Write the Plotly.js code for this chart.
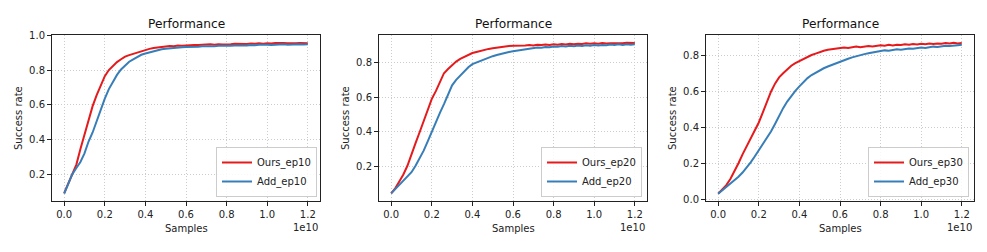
<!DOCTYPE html>
<html>
<head>
<meta charset="utf-8">
<script src="https://cdn.plot.ly/plotly-3.0.1.min.js"></script>
<style>html,body{margin:0;padding:0;background:#fff;}#chart{width:987px;height:252px;}</style>
</head>
<body>
<div id="chart"></div>
<script>
// x in units of 1e10 samples
const samples = [0.00,0.02,0.04,0.06,0.08,0.10,0.12,0.14,0.16,0.18,
  0.20,0.22,0.24,0.26,0.28,0.30,0.32,0.34,0.36,0.38,
  0.40,0.42,0.44,0.46,0.48,0.50,0.52,0.54,0.56,0.58,
  0.60,0.62,0.64,0.66,0.68,0.70,0.72,0.74,0.76,0.78,
  0.80,0.82,0.84,0.86,0.88,0.90,0.92,0.94,0.96,0.98,
  1.00,1.02,1.04,1.06,1.08,1.10,1.12,1.14,1.16,1.18,1.20];

const ours_ep10 = [0.091,0.145,0.200,0.255,0.345,0.428,0.515,0.592,0.655,0.710,
  0.765,0.800,0.824,0.846,0.862,0.877,0.886,0.893,0.900,0.910,
  0.918,0.922,0.927,0.930,0.933,0.935,0.938,0.937,0.941,0.940,
  0.943,0.942,0.945,0.944,0.946,0.945,0.948,0.946,0.949,0.947,
  0.950,0.949,0.951,0.950,0.952,0.950,0.953,0.951,0.954,0.952,
  0.955,0.953,0.956,0.954,0.956,0.955,0.957,0.955,0.956,0.957,0.955];
const add_ep10 = [0.088,0.150,0.200,0.235,0.270,0.320,0.388,0.440,0.505,0.578,
  0.635,0.690,0.735,0.772,0.803,0.828,0.848,0.862,0.876,0.888,
  0.895,0.902,0.910,0.915,0.920,0.923,0.926,0.928,0.930,0.931,
  0.933,0.932,0.935,0.934,0.937,0.936,0.938,0.937,0.940,0.939,
  0.941,0.940,0.942,0.941,0.944,0.942,0.945,0.943,0.946,0.944,
  0.946,0.945,0.947,0.945,0.948,0.946,0.948,0.947,0.949,0.947,0.948];

const ours_ep20 = [0.046,0.075,0.115,0.155,0.205,0.265,0.335,0.398,0.465,0.530,
  0.590,0.635,0.690,0.738,0.762,0.785,0.805,0.820,0.833,0.845,
  0.854,0.860,0.867,0.872,0.878,0.882,0.886,0.889,0.891,0.894,
  0.896,0.895,0.898,0.897,0.900,0.898,0.902,0.900,0.903,0.901,
  0.905,0.902,0.906,0.903,0.907,0.905,0.908,0.906,0.910,0.907,
  0.910,0.908,0.912,0.909,0.911,0.910,0.913,0.910,0.914,0.911,0.912];
const add_ep20 = [0.046,0.070,0.095,0.118,0.142,0.168,0.205,0.245,0.292,0.345,
  0.402,0.455,0.510,0.560,0.615,0.668,0.700,0.725,0.750,0.772,
  0.790,0.800,0.810,0.819,0.828,0.836,0.843,0.850,0.855,0.860,
  0.864,0.868,0.872,0.876,0.880,0.883,0.886,0.885,0.889,0.888,
  0.892,0.890,0.894,0.892,0.896,0.893,0.897,0.895,0.899,0.896,
  0.900,0.898,0.901,0.899,0.903,0.900,0.904,0.901,0.905,0.902,0.905];

const ours_ep30 = [0.030,0.052,0.078,0.112,0.152,0.200,0.250,0.296,0.338,0.382,
  0.428,0.485,0.545,0.600,0.645,0.680,0.703,0.725,0.745,0.760,
  0.772,0.785,0.796,0.805,0.813,0.822,0.829,0.834,0.838,0.841,
  0.844,0.847,0.845,0.850,0.852,0.849,0.854,0.856,0.853,0.858,
  0.860,0.857,0.862,0.859,0.863,0.861,0.865,0.862,0.866,0.864,
  0.868,0.865,0.869,0.867,0.870,0.868,0.872,0.869,0.873,0.870,0.873];
const add_ep30 = [0.030,0.048,0.066,0.084,0.104,0.125,0.148,0.175,0.205,0.238,
  0.272,0.305,0.340,0.378,0.420,0.465,0.508,0.545,0.578,0.605,
  0.630,0.655,0.676,0.693,0.707,0.720,0.731,0.741,0.750,0.760,
  0.770,0.777,0.784,0.792,0.799,0.805,0.810,0.815,0.820,0.824,
  0.828,0.831,0.829,0.834,0.837,0.835,0.840,0.842,0.840,0.845,
  0.847,0.845,0.850,0.852,0.850,0.855,0.857,0.855,0.859,0.860,0.862];

const ourNames = ['Ours_ep10','Ours_ep20','Ours_ep30'];
const addNames = ['Add_ep10','Add_ep20','Add_ep30'];
const oursSeries = [ours_ep10, ours_ep20, ours_ep30];
const addSeries = [add_ep10, add_ep20, add_ep30];
const xTickVals = [0.0,0.2,0.4,0.6,0.8,1.0,1.2];
const xTickText = ['0.0','0.2','0.4','0.6','0.8','1.0','1.2'];
const yRanges = [[0.045,1.002],[0.002,0.958],[-0.011,0.917]];
const titleText = 'Performance';
const xTitle = 'Samples';
const yTitle = 'Success rate';
const xExponent = '1e10';

const RED = '#e41a1c', BLUE = '#377eb8';
const FONT = 'DejaVu Sans, sans-serif';
const FS = 10;
const W = 987, H = 252;
const xDom = [[52,320],[379,647],[706,974]];
const plotTop = 35, plotBot = 201;
const legendRight = [317, 642, 969];
const yTitleX = [18, 345, 672];

const traces = [];
const layout = {
  width: W, height: H,
  margin: {l:0, r:0, t:0, b:0},
  paper_bgcolor: '#fff', plot_bgcolor: '#fff',
  font: {family: FONT, size: FS, color: '#222'},
  annotations: [],
  showlegend: true
};

for (let i = 0; i < 3; i++) {
  const sfx = i === 0 ? '' : String(i+1);
  const lg = i === 0 ? 'legend' : 'legend' + (i+1);
  traces.push({x: samples, y: oursSeries[i], type: 'scatter', mode: 'lines', name: ourNames[i],
    line: {color: RED, width: 2}, xaxis: 'x'+sfx, yaxis: 'y'+sfx, legend: lg});
  traces.push({x: samples, y: addSeries[i], type: 'scatter', mode: 'lines', name: addNames[i],
    line: {color: BLUE, width: 2}, xaxis: 'x'+sfx, yaxis: 'y'+sfx, legend: lg});

  const common = {
    showline: true, mirror: true, linecolor: '#222', linewidth: 1,
    ticks: 'outside', ticklen: 4, tickwidth: 1, tickcolor: '#222',
    showgrid: true, gridcolor: '#cccccc', griddash: '1px,2px', gridwidth: 1,
    zeroline: false, tickfont: {family: FONT, size: FS, color: '#222'}
  };
  layout['xaxis'+sfx] = Object.assign({}, common, {
    domain: [xDom[i][0]/W, xDom[i][1]/W], anchor: 'y'+sfx,
    range: [-0.06, 1.26], tickvals: xTickVals, ticktext: xTickText
  });
  layout['yaxis'+sfx] = Object.assign({}, common, {
    domain: [(H-plotBot)/H, (H-plotTop)/H], anchor: 'x'+sfx,
    range: yRanges[i], dtick: 0.2, tick0: 0, tickformat: '.1f'
  });
  layout[lg] = {
    x: legendRight[i]/W, y: (H-197)/H, xanchor: 'right', yanchor: 'bottom',
    xref: 'paper', yref: 'paper',
    bgcolor: 'rgba(255,255,255,0.85)', bordercolor: '#cccccc', borderwidth: 1,
    font: {family: FONT, size: FS, color: '#222'},
    itemwidth: 30, tracegroupgap: 0
  };
  const cx = (xDom[i][0] + xDom[i][1]) / 2 / W;
  layout.annotations.push({text: titleText, xref: 'paper', yref: 'paper', x: cx, y: (H-24)/H,
    xanchor: 'center', yanchor: 'middle', showarrow: false, font: {family: FONT, size: 12.2, color: '#111'}});
  layout.annotations.push({text: xTitle, xref: 'paper', yref: 'paper', x: cx, y: (H-228)/H,
    xanchor: 'center', yanchor: 'middle', showarrow: false, font: {family: FONT, size: FS, color: '#222'}});
  layout.annotations.push({text: xExponent, xref: 'paper', yref: 'paper', x: xDom[i][1]/W, y: (H-227)/H,
    xanchor: 'right', yanchor: 'middle', showarrow: false, font: {family: FONT, size: FS, color: '#222'}});
  layout.annotations.push({text: yTitle, xref: 'paper', yref: 'paper', x: yTitleX[i]/W, y: (H-118)/H,
    xanchor: 'center', yanchor: 'middle', textangle: -90, showarrow: false, font: {family: FONT, size: FS, color: '#222'}});
}

Plotly.newPlot('chart', traces, layout, {staticPlot: true, displayModeBar: false});
</script>
</body>
</html>
